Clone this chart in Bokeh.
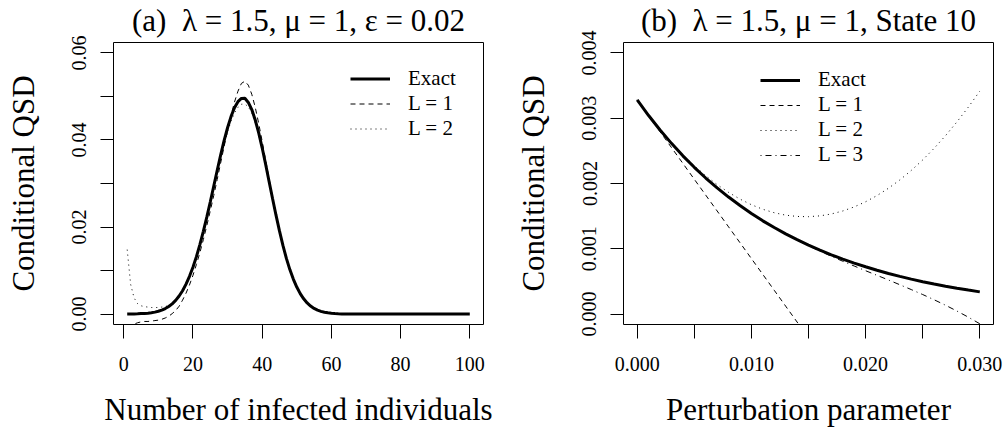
from bokeh.plotting import figure
from bokeh.layouts import row
from bokeh.models import FixedTicker, PrintfTickFormatter, Range1d, Legend, LegendItem
from bokeh.embed import file_html
from bokeh.resources import INLINE

FONT = "Liberation Serif"

# ---------------- Panel (a) data ----------------
infected = list(range(1, 101))
qsd_exact = [
    0.00001, 0.00002, 0.00004, 0.00006, 0.00010, 0.00014, 0.00020, 0.00030, 0.00044, 0.00064,
    0.00090, 0.00126, 0.00173, 0.00235, 0.00314, 0.00414, 0.00536, 0.00689, 0.00868, 0.01076,
    0.01319, 0.01597, 0.01900, 0.02227, 0.02574, 0.02936, 0.03298, 0.03651, 0.03983, 0.04281,
    0.04538, 0.04740, 0.04880, 0.04955, 0.04958, 0.04863, 0.04699, 0.04459, 0.04162, 0.03820,
    0.03442, 0.03045, 0.02654, 0.02272, 0.01910, 0.01577, 0.01279, 0.01022, 0.00804, 0.00620,
    0.00470, 0.00350, 0.00256, 0.00184, 0.00130, 0.00091, 0.00062, 0.00042, 0.00028, 0.00018,
    0.00011, 0.00007, 0.00004, 0.00003, 0.00002, 0.00001, 0.0, 0.0, 0.0, 0.0,
    0.0, 0.0, 0.0, 0.0, 0.0, 0.0, 0.0, 0.0, 0.0, 0.0,
    0.0, 0.0, 0.0, 0.0, 0.0, 0.0, 0.0, 0.0, 0.0, 0.0,
    0.0, 0.0, 0.0, 0.0, 0.0, 0.0, 0.0, 0.0, 0.0, 0.0,
]
qsd_L1 = [
    -0.0030, -0.0026, -0.0023, -0.0020, -0.0018, -0.0017, -0.0017, -0.0016, -0.0015, -0.0014,
    -0.0012, -0.0009, -0.0005, 0.0001, 0.0008, 0.0018, 0.0032, 0.0048, 0.0067, 0.0089,
    0.0114, 0.0141, 0.0171, 0.0203, 0.0237, 0.0272, 0.0309, 0.0347, 0.0385, 0.0421,
    0.0456, 0.0487, 0.0512, 0.0530, 0.0535, 0.0526, 0.0505, 0.0475, 0.0438, 0.0397,
    0.0354, 0.0311, 0.0268, 0.0228, 0.0190, 0.0156, 0.0126, 0.0100, 0.0078, 0.0060,
    0.0045, 0.0033, 0.0024, 0.0017, 0.0012, 0.0008, 0.0005, 0.0003, 0.0002, 0.0001,
    0.0, 0.0, 0.0, 0.0, 0.0, 0.0, 0.0, 0.0, 0.0, 0.0,
    0.0, 0.0, 0.0, 0.0, 0.0, 0.0, 0.0, 0.0, 0.0, 0.0,
    0.0, 0.0, 0.0, 0.0, 0.0, 0.0, 0.0, 0.0, 0.0, 0.0,
    0.0, 0.0, 0.0, 0.0, 0.0, 0.0, 0.0, 0.0, 0.0, 0.0,
]
qsd_L2 = [
    0.0148, 0.0068, 0.0037, 0.0024, 0.0019, 0.0017, 0.0016, 0.0015, 0.0015, 0.0015,
    0.0016, 0.0017, 0.0020, 0.0025, 0.0032, 0.0041, 0.0053, 0.0067, 0.0085, 0.0105,
    0.0128, 0.0155, 0.0185, 0.0218, 0.0252, 0.0288, 0.0324, 0.0358, 0.0390, 0.0419,
    0.0443, 0.0462, 0.0475, 0.0482, 0.0483, 0.0476, 0.0462, 0.0440, 0.0412, 0.0379,
    0.0343, 0.0304, 0.0265, 0.0227, 0.0191, 0.0158, 0.0128, 0.0102, 0.0080, 0.0062,
    0.0047, 0.0035, 0.0026, 0.0018, 0.0013, 0.0009, 0.0006, 0.0004, 0.0003, 0.0002,
    0.0001, 0.0001, 0.0, 0.0, 0.0, 0.0, 0.0, 0.0, 0.0, 0.0,
    0.0, 0.0, 0.0, 0.0, 0.0, 0.0, 0.0, 0.0, 0.0, 0.0,
    0.0, 0.0, 0.0, 0.0, 0.0, 0.0, 0.0, 0.0, 0.0, 0.0,
    0.0, 0.0, 0.0, 0.0, 0.0, 0.0, 0.0, 0.0, 0.0, 0.0,
]
a_xticks = [0, 20, 40, 60, 80, 100]
a_yticks = [0.0, 0.01, 0.02, 0.03, 0.04, 0.05, 0.06]
a_ylabels = {0.01: "", 0.03: "", 0.05: ""}

# ---------------- Panel (b) data ----------------
perturb = [0.000, 0.001, 0.002, 0.003, 0.004, 0.005, 0.006, 0.007, 0.008, 0.009,
           0.010, 0.011, 0.012, 0.013, 0.014, 0.015, 0.016, 0.017, 0.018, 0.019,
           0.020, 0.021, 0.022, 0.023, 0.024, 0.025, 0.026, 0.027, 0.028, 0.029, 0.030]
s10_exact = [0.003280, 0.003041, 0.002820, 0.002615, 0.002424, 0.002248, 0.002084, 0.001933,
             0.001792, 0.001662, 0.001541, 0.001428, 0.001325, 0.001228, 0.001139, 0.001056,
             0.000979, 0.000908, 0.000842, 0.000781, 0.000724, 0.000671, 0.000622, 0.000577,
             0.000535, 0.000496, 0.000460, 0.000426, 0.000395, 0.000367, 0.000340]
s10_L1 = [0.003280, 0.003037, 0.002794, 0.002551, 0.002308, 0.002065, 0.001822, 0.001579,
          0.001336, 0.001093, 0.000850, 0.000607, 0.000364, 0.000121, -0.000122, -0.000365,
          -0.000608, -0.000851, -0.001094, -0.001337, -0.001580, -0.001823, -0.002066, -0.002309,
          -0.002552, -0.002795, -0.003038, -0.003281, -0.003524, -0.003767, -0.004010]
s10_L2 = [0.003280, 0.003045, 0.002827, 0.002625, 0.002440, 0.002272, 0.002119, 0.001983,
          0.001864, 0.001761, 0.001675, 0.001605, 0.001552, 0.001515, 0.001495, 0.001492,
          0.001504, 0.001533, 0.001579, 0.001641, 0.001720, 0.001815, 0.001927, 0.002055,
          0.002200, 0.002361, 0.002539, 0.002733, 0.002944, 0.003171, 0.003415]
s10_L3 = [0.003280, 0.003045, 0.002826, 0.002621, 0.002432, 0.002256, 0.002091, 0.001938,
          0.001796, 0.001665, 0.001543, 0.001429, 0.001324, 0.001225, 0.001133, 0.001047,
          0.000963, 0.000885, 0.000809, 0.000736, 0.000664, 0.000593, 0.000522, 0.000449,
          0.000375, 0.000299, 0.000219, 0.000135, 0.000046, -0.000048, -0.000149]
b_xticks = [0.0, 0.005, 0.01, 0.015, 0.02, 0.025, 0.03]
b_xlabels = {0.005: "", 0.015: "", 0.025: ""}
b_yticks = [0.0, 0.001, 0.002, 0.003, 0.004]


def style(p, ylabel, xlabel):
    p.outline_line_color = "black"
    p.outline_line_width = 1
    p.xgrid.visible = False
    p.ygrid.visible = False
    p.title.text_font = FONT
    p.title.text_font_size = "31px"
    p.title.text_font_style = "normal"
    p.title.text_color = "black"
    p.title.align = "center"
    p.title.vertical_align = "top"
    p.title.standoff = 5
    for ax in (p.xaxis[0], p.yaxis[0]):
        ax.axis_line_color = None
        ax.major_tick_line_color = "black"
        ax.major_tick_in = 0
        ax.minor_tick_line_color = None
        ax.major_label_text_font = FONT
        ax.major_label_text_font_size = "20px"
        ax.major_label_text_color = "black"
        ax.axis_label_text_font = FONT
        ax.axis_label_text_font_size = "31px"
        ax.axis_label_text_font_style = "normal"
        ax.axis_label_text_color = "black"
    p.xaxis[0].major_tick_out = 14
    p.yaxis[0].major_tick_out = 13
    p.xaxis[0].major_label_standoff = 18
    p.yaxis[0].major_label_standoff = 14
    p.yaxis[0].major_label_orientation = "vertical"
    p.xaxis[0].axis_label = xlabel
    p.yaxis[0].axis_label = ylabel
    p.xaxis[0].axis_label_standoff = 18
    p.yaxis[0].axis_label_standoff = 29


def make_legend(items, vx, vy, gh):
    lg = Legend(items=items, location=(vx, vy))
    lg.label_text_font = FONT
    lg.label_text_font_size = "21px"
    lg.label_text_color = "black"
    lg.glyph_width = 40
    lg.glyph_height = gh
    lg.label_height = gh
    lg.spacing = 0
    lg.padding = 0
    lg.margin = 0
    lg.label_standoff = 18
    lg.border_line_color = None
    lg.background_fill_alpha = 0
    return lg


# ---------------- Figure (a) ----------------
pa = figure(width=502, height=432, output_backend="svg", toolbar_location=None,
            x_range=Range1d(-2.96, 103.96), y_range=Range1d(-0.0024, 0.0624),
            min_border_left=113, min_border_right=19, min_border_top=42, min_border_bottom=108,
            title="(a)\u00a0 λ = 1.5, μ = 1, ε = 0.02")
style(pa, "Conditional QSD", "Number of infected individuals")
pa.xaxis[0].ticker = FixedTicker(ticks=a_xticks)
pa.yaxis[0].ticker = FixedTicker(ticks=a_yticks)
pa.yaxis[0].formatter = PrintfTickFormatter(format="%.2f")
pa.yaxis[0].major_label_overrides = a_ylabels

ra0 = pa.line(infected, qsd_exact, line_color="black", line_width=3)
ra1 = pa.line(infected, qsd_L1, line_color="black", line_width=1, line_dash="5 4")
ra2 = pa.line(infected, qsd_L2, line_color="black", line_width=1, line_dash="1 4")
pa.add_layout(make_legend([LegendItem(label="Exact", renderers=[ra0]),
                           LegendItem(label="L = 1", renderers=[ra1]),
                           LegendItem(label="L = 2", renderers=[ra2])], 237, 183, 23))

# ---------------- Figure (b) ----------------
pb = figure(width=502, height=432, output_backend="svg", toolbar_location=None,
            x_range=Range1d(-0.0012, 0.0312), y_range=Range1d(-0.00016, 0.00416),
            min_border_left=121, min_border_right=11, min_border_top=42, min_border_bottom=108,
            title="(b)\u00a0 λ = 1.5, μ = 1, State 10")
style(pb, "Conditional QSD", "Perturbation parameter")
pb.xaxis[0].ticker = FixedTicker(ticks=b_xticks)
pb.xaxis[0].formatter = PrintfTickFormatter(format="%.3f")
pb.xaxis[0].major_label_overrides = b_xlabels
pb.yaxis[0].ticker = FixedTicker(ticks=b_yticks)
pb.yaxis[0].formatter = PrintfTickFormatter(format="%.3f")

rb0 = pb.line(perturb, s10_exact, line_color="black", line_width=3)
rb1 = pb.line(perturb, s10_L1, line_color="black", line_width=1, line_dash="5 4")
rb2 = pb.line(perturb, s10_L2, line_color="black", line_width=1, line_dash="1 4")
rb3 = pb.line(perturb, s10_L3, line_color="black", line_width=1, line_dash="1 4 6 4")
pb.add_layout(make_legend([LegendItem(label="Exact", renderers=[rb0]),
                           LegendItem(label="L = 1", renderers=[rb1]),
                           LegendItem(label="L = 2", renderers=[rb2]),
                           LegendItem(label="L = 3", renderers=[rb3])], 137, 157, 24))

layout = row(pa, pb)
open("out.html", "w").write(file_html(layout, INLINE))
